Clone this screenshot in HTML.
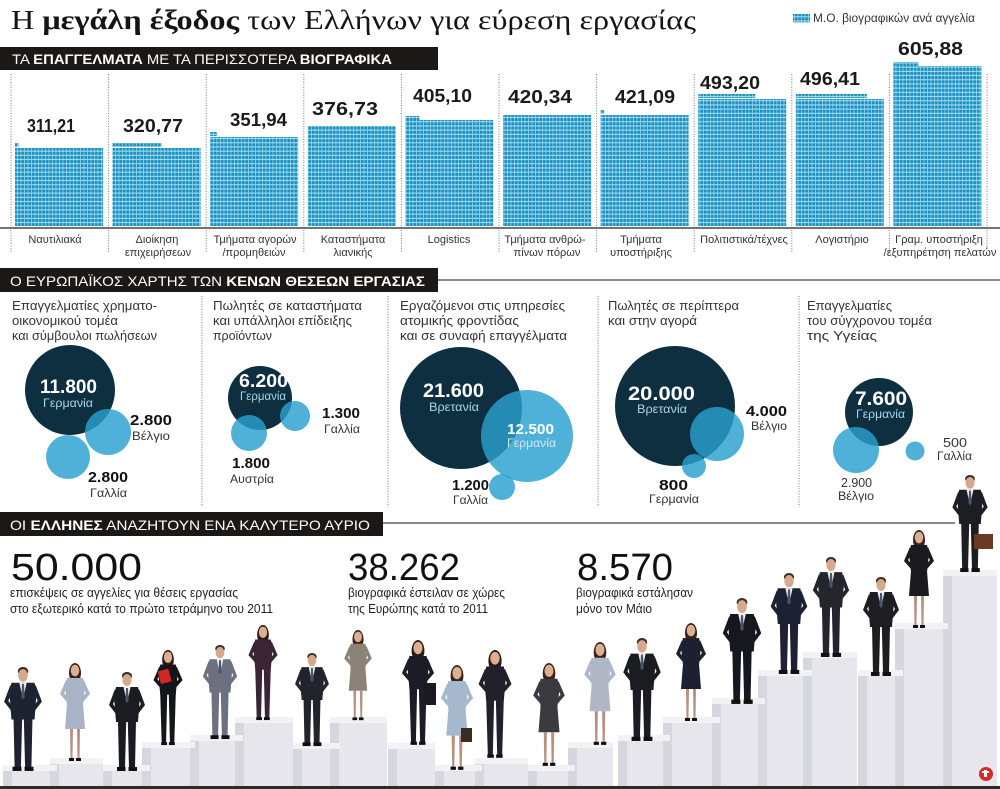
<!DOCTYPE html>
<html><head><meta charset="utf-8"><style>
html,body{margin:0;padding:0;background:#fff;}
svg{display:block;}
</style></head><body>
<svg width="1000" height="789" viewBox="0 0 1000 789" xmlns="http://www.w3.org/2000/svg" style="font-family:'Liberation Sans',sans-serif">
<defs>
<pattern id="sq" width="3.5" height="4.2" patternUnits="userSpaceOnUse">
<rect width="3.5" height="4.2" fill="#a3def3"/>
<rect x="0.3" y="0.5" width="2.8" height="3.1" fill="#1b8fc0"/>
</pattern>
<g id="man">
<ellipse cx="0" cy="4" rx="5" ry="4" fill="#3b2b22"/>
<ellipse cx="0" cy="8" rx="4.6" ry="6" fill="#d6a98c"/>
<path d="M-11,15 L11,15 L13,24 L11,50 L-11,50 L-13,24Z" fill="currentColor"/>
<path d="M-12,17 L-18,33 L-11,42 L-10,38 L-14,32 L-10,24Z" fill="currentColor"/>
<path d="M12,17 L18,33 L11,42 L10,38 L14,32 L10,24Z" fill="currentColor"/>
<path d="M-3.5,15 L3.5,15 L0,31Z" fill="#f2f2f2"/>
<path d="M-1,16 L1,16 L1.6,29 L0,31 L-1.6,29Z" fill="#4a5470"/>
<path d="M-9,49 L-0.8,49 L-2,96 L-8,96Z" fill="currentColor"/>
<path d="M9,49 L0.8,49 L2,96 L8,96Z" fill="currentColor"/>
<rect x="-10" y="95" width="8.5" height="4" fill="#111"/>
<rect x="1.5" y="95" width="8.5" height="4" fill="#111"/>
</g>
<g id="wom">
<ellipse cx="0" cy="10" rx="6" ry="10" fill="#3a2418"/>
<ellipse cx="0" cy="7.5" rx="4.3" ry="5.8" fill="#dcae92"/>
<path d="M-8,15 L8,15 L10,24 L8,42 L-8,42 L-10,24Z" fill="currentColor"/>
<path d="M-9,17 L-15,31 L-8,39 L-7,35 L-11,30 L-7,23Z" fill="currentColor"/>
<path d="M9,17 L15,31 L8,39 L7,35 L11,30 L7,23Z" fill="currentColor"/>
<path d="M-8,41 L8,41 L10,66 L-10,66Z" fill="currentColor"/>
<path d="M-5,66 L-2,66 L-2.5,95 L-4.5,95Z" fill="#b89080"/>
<path d="M5,66 L2,66 L2.5,95 L4.5,95Z" fill="#b89080"/>
<rect x="-6" y="95" width="5" height="3" fill="#111"/>
<rect x="1" y="95" width="5" height="3" fill="#111"/>
</g>
<g id="womp">
<ellipse cx="0" cy="10" rx="6" ry="10" fill="#2a1a14"/>
<ellipse cx="0" cy="7.5" rx="4.3" ry="5.8" fill="#dcae92"/>
<path d="M-8,15 L8,15 L10,24 L8,46 L-8,46 L-10,24Z" fill="currentColor"/>
<path d="M-9,17 L-15,31 L-8,39 L-7,35 L-11,30 L-7,23Z" fill="currentColor"/>
<path d="M9,17 L15,31 L8,39 L7,35 L11,30 L7,23Z" fill="currentColor"/>
<path d="M-8,45 L-0.8,45 L-2,96 L-6.5,96Z" fill="currentColor"/>
<path d="M8,45 L0.8,45 L2,96 L6.5,96Z" fill="currentColor"/>
<rect x="-7" y="95" width="6" height="3" fill="#111"/>
<rect x="1" y="95" width="6" height="3" fill="#111"/>
</g>
</defs>

<!-- Title -->
<text x="11" y="29" font-family="'Liberation Serif',serif" font-size="27" fill="#151515" textLength="685" lengthAdjust="spacingAndGlyphs">Η <tspan font-weight="bold">μεγάλη έξοδος</tspan> των Ελλήνων για εύρεση εργασίας</text>
<!-- Legend -->
<rect x="793" y="14" width="17" height="8.4" fill="url(#sq)"/>
<text x="813" y="22" font-size="11.5" fill="#333" textLength="162" lengthAdjust="spacingAndGlyphs">Μ.Ο. βιογραφικών ανά αγγελία</text>

<!-- Header 1 -->
<rect x="0" y="47" width="438" height="23" fill="#1c1816"/>
<text x="12" y="64" font-size="13.5" fill="#fff" textLength="380" lengthAdjust="spacingAndGlyphs">ΤΑ <tspan font-weight="bold">ΕΠΑΓΓΕΛΜΑΤΑ</tspan> ΜΕ ΤΑ ΠΕΡΙΣΣΟΤΕΡΑ <tspan font-weight="bold">ΒΙΟΓΡΑΦΙΚΑ</tspan></text>

<!-- Dotted separators bar chart -->
<g stroke="#777" stroke-width="1" stroke-dasharray="1,1.6">
<line x1="11" y1="74" x2="11" y2="252"/>
<line x1="108.6" y1="74" x2="108.6" y2="252"/>
<line x1="206.2" y1="74" x2="206.2" y2="252"/>
<line x1="303.8" y1="74" x2="303.8" y2="252"/>
<line x1="401.4" y1="74" x2="401.4" y2="252"/>
<line x1="499" y1="74" x2="499" y2="252"/>
<line x1="596.6" y1="74" x2="596.6" y2="252"/>
<line x1="694.2" y1="74" x2="694.2" y2="252"/>
<line x1="791.8" y1="74" x2="791.8" y2="252"/>
<line x1="889.4" y1="74" x2="889.4" y2="252"/>
<line x1="987" y1="74" x2="987" y2="252"/>
</g>

<!-- Bars -->
<g fill="url(#sq)">
<rect x="15" y="148" width="88" height="78"/><rect x="15" y="143" width="3.5" height="4"/>
<rect x="112.6" y="148" width="88" height="78"/><rect x="112.6" y="143" width="49" height="4"/>
<rect x="210.2" y="137" width="88" height="89"/><rect x="210.2" y="132" width="7" height="4"/>
<rect x="307.8" y="126" width="88" height="100"/>
<rect x="405.4" y="120" width="88" height="106"/><rect x="405.4" y="116" width="14" height="4"/>
<rect x="503" y="115" width="88" height="111"/>
<rect x="600.6" y="115" width="88" height="111"/><rect x="600.6" y="110" width="3.5" height="4"/>
<rect x="698.2" y="99" width="88" height="127"/><rect x="698.2" y="94" width="57" height="4"/>
<rect x="795.8" y="99" width="88" height="127"/><rect x="795.8" y="94" width="71" height="4"/>
<rect x="893.4" y="66" width="88" height="160"/><rect x="893.4" y="62" width="25" height="4"/>
</g>
<line x1="0" y1="228" x2="1000" y2="228" stroke="#444" stroke-width="1.5"/>

<!-- Value labels -->
<g font-size="18" font-weight="bold" fill="#1a1a1a">
<text x="27" y="132" textLength="48" lengthAdjust="spacingAndGlyphs">311,21</text>
<text x="123" y="132" textLength="60" lengthAdjust="spacingAndGlyphs">320,77</text>
<text x="230" y="126" textLength="57" lengthAdjust="spacingAndGlyphs">351,94</text>
<text x="312" y="115" textLength="66" lengthAdjust="spacingAndGlyphs">376,73</text>
<text x="413" y="102" textLength="59" lengthAdjust="spacingAndGlyphs">405,10</text>
<text x="508" y="103" textLength="64" lengthAdjust="spacingAndGlyphs">420,34</text>
<text x="615" y="103" textLength="60" lengthAdjust="spacingAndGlyphs">421,09</text>
<text x="700" y="89" textLength="60" lengthAdjust="spacingAndGlyphs">493,20</text>
<text x="800" y="85" textLength="60" lengthAdjust="spacingAndGlyphs">496,41</text>
<text x="898" y="55" textLength="65" lengthAdjust="spacingAndGlyphs">605,88</text>
</g>

<!-- Category labels -->
<g font-size="11" fill="#333" text-anchor="middle">
<text x="55" y="243">Ναυτιλιακά</text>
<text x="157" y="243">Διοίκηση</text><text x="158" y="256">επιχειρήσεων</text>
<text x="255" y="243">Τμήματα αγορών</text><text x="254" y="256">/προμηθειών</text>
<text x="353" y="243">Καταστήματα</text><text x="353" y="256">λιανικής</text>
<text x="449" y="243">Logistics</text>
<text x="545" y="243">Τμήματα ανθρώ-</text><text x="547" y="256">πίνων πόρων</text>
<text x="641" y="243">Τμήματα</text><text x="641" y="256">υποστήριξης</text>
<text x="744" y="243">Πολιτιστικά/τέχνες</text>
<text x="842" y="243">Λογιστήριο</text>
<text x="939" y="243">Γραμ. υποστήριξη</text><text x="940" y="256">/εξυπηρέτηση πελατών</text>
</g>

<!-- Header 2 -->
<rect x="0" y="268" width="438" height="24" fill="#1c1816"/>
<line x1="438" y1="280" x2="1000" y2="280" stroke="#444" stroke-width="1.3"/>
<text x="10" y="286" font-size="14" fill="#fff" textLength="415" lengthAdjust="spacingAndGlyphs">Ο ΕΥΡΩΠΑΪΚΟΣ ΧΑΡΤΗΣ ΤΩΝ <tspan font-weight="bold">ΚΕΝΩΝ ΘΕΣΕΩΝ ΕΡΓΑΣΙΑΣ</tspan></text>

<g stroke="#777" stroke-width="1" stroke-dasharray="1,1.6">
<line x1="202" y1="296" x2="202" y2="507"/>
<line x1="388" y1="296" x2="388" y2="507"/>
<line x1="598" y1="296" x2="598" y2="507"/>
<line x1="799" y1="296" x2="799" y2="507"/>
</g>

<!-- Column texts -->
<g font-size="13" fill="#333">
<text x="12" y="310" textLength="145" lengthAdjust="spacingAndGlyphs">Επαγγελματίες χρηματο-</text>
<text x="12" y="325" textLength="106" lengthAdjust="spacingAndGlyphs">οικονομικού τομέα</text>
<text x="12" y="340" textLength="145" lengthAdjust="spacingAndGlyphs">και σύμβουλοι πωλήσεων</text>
<text x="213" y="310" textLength="149" lengthAdjust="spacingAndGlyphs">Πωλητές σε καταστήματα</text>
<text x="213" y="325" textLength="139" lengthAdjust="spacingAndGlyphs">και υπάλληλοι επίδειξης</text>
<text x="213" y="340" textLength="59" lengthAdjust="spacingAndGlyphs">προϊόντων</text>
<text x="400" y="310" textLength="165" lengthAdjust="spacingAndGlyphs">Εργαζόμενοι στις υπηρεσίες</text>
<text x="400" y="325" textLength="119" lengthAdjust="spacingAndGlyphs">ατομικής φροντίδας</text>
<text x="400" y="340" textLength="167" lengthAdjust="spacingAndGlyphs">και σε συναφή επαγγέλματα</text>
<text x="608" y="310" textLength="131" lengthAdjust="spacingAndGlyphs">Πωλητές σε περίπτερα</text>
<text x="608" y="325" textLength="89" lengthAdjust="spacingAndGlyphs">και στην αγορά</text>
<text x="807" y="310" textLength="85" lengthAdjust="spacingAndGlyphs">Επαγγελματίες</text>
<text x="807" y="325" textLength="125" lengthAdjust="spacingAndGlyphs">του σύγχρονου τομέα</text>
<text x="807" y="340" textLength="70" lengthAdjust="spacingAndGlyphs">της Υγείας</text>
</g>

<!-- Bubbles -->
<g fill="#0e2f40">
<circle cx="70" cy="390" r="45"/>
<circle cx="260" cy="398" r="32"/>
<circle cx="461" cy="408" r="61"/>
<circle cx="675" cy="406" r="60"/>
<circle cx="879" cy="412" r="34"/>
</g>
<g fill="#2aa0d0" fill-opacity="0.82">
<circle cx="108" cy="432" r="23"/>
<circle cx="68" cy="457" r="22"/>
<circle cx="295" cy="416" r="15"/>
<circle cx="249" cy="433" r="18"/>
<circle cx="527" cy="436" r="46"/>
<circle cx="502" cy="487" r="13"/>
<circle cx="717" cy="434" r="27"/>
<circle cx="694" cy="466" r="12"/>
<circle cx="856" cy="450" r="23"/>
<circle cx="915" cy="451" r="9.5"/>
</g>

<!-- White bubble numbers -->
<g font-weight="bold" fill="#fff">
<text x="40" y="393" font-size="19" textLength="57" lengthAdjust="spacingAndGlyphs">11.800</text>
<text x="239" y="387" font-size="18" textLength="49" lengthAdjust="spacingAndGlyphs">6.200</text>
<text x="423" y="397" font-size="19" textLength="61" lengthAdjust="spacingAndGlyphs">21.600</text>
<text x="507" y="434" font-size="15" textLength="47" lengthAdjust="spacingAndGlyphs">12.500</text>
<text x="628" y="400" font-size="19" textLength="67" lengthAdjust="spacingAndGlyphs">20.000</text>
<text x="855" y="405" font-size="19" textLength="52" lengthAdjust="spacingAndGlyphs">7.600</text>
</g>
<g font-size="12" fill="#a8d6ea">
<text x="43" y="407" textLength="50" lengthAdjust="spacingAndGlyphs">Γερμανία</text>
<text x="240" y="400" textLength="46" lengthAdjust="spacingAndGlyphs">Γερμανία</text>
<text x="429" y="411" textLength="50" lengthAdjust="spacingAndGlyphs">Βρετανία</text>
<text x="507" y="447" textLength="49" lengthAdjust="spacingAndGlyphs" fill="#cde9f5">Γερμανία</text>
<text x="637" y="413" textLength="50" lengthAdjust="spacingAndGlyphs">Βρετανία</text>
<text x="856" y="418" textLength="49" lengthAdjust="spacingAndGlyphs">Γερμανία</text>
</g>

<!-- Dark outside bubble labels -->
<g font-weight="bold" fill="#111" font-size="15">
<text x="130" y="425" textLength="42" lengthAdjust="spacingAndGlyphs">2.800</text>
<text x="88" y="482" textLength="40" lengthAdjust="spacingAndGlyphs">2.800</text>
<text x="322" y="418" textLength="38" lengthAdjust="spacingAndGlyphs">1.300</text>
<text x="232" y="468" textLength="38" lengthAdjust="spacingAndGlyphs">1.800</text>
<text x="452" y="490" textLength="37" lengthAdjust="spacingAndGlyphs">1.200</text>
<text x="746" y="416" textLength="41" lengthAdjust="spacingAndGlyphs">4.000</text>
<text x="659" y="490" textLength="29" lengthAdjust="spacingAndGlyphs">800</text>
</g>
<g fill="#333" font-size="12">
<text x="132" y="440" textLength="38" lengthAdjust="spacingAndGlyphs">Βέλγιο</text>
<text x="90" y="497" textLength="37" lengthAdjust="spacingAndGlyphs">Γαλλία</text>
<text x="324" y="433" textLength="36" lengthAdjust="spacingAndGlyphs">Γαλλία</text>
<text x="230" y="483" textLength="44" lengthAdjust="spacingAndGlyphs">Αυστρία</text>
<text x="453" y="504" textLength="35" lengthAdjust="spacingAndGlyphs">Γαλλία</text>
<text x="751" y="430" textLength="36" lengthAdjust="spacingAndGlyphs">Βέλγιο</text>
<text x="649" y="503" textLength="50" lengthAdjust="spacingAndGlyphs">Γερμανία</text>
<text x="943" y="447" font-size="13" textLength="24" lengthAdjust="spacingAndGlyphs">500</text>
<text x="937" y="460" textLength="35" lengthAdjust="spacingAndGlyphs">Γαλλία</text>
<text x="841" y="487" font-size="13" textLength="31" lengthAdjust="spacingAndGlyphs">2.900</text>
<text x="838" y="500" textLength="36" lengthAdjust="spacingAndGlyphs">Βέλγιο</text>
</g>

<!-- Header 3 -->
<rect x="0" y="512" width="383" height="24" fill="#1c1816"/>
<line x1="383" y1="523" x2="955" y2="523" stroke="#444" stroke-width="1.3"/>
<text x="10" y="530" font-size="14" fill="#fff" textLength="360" lengthAdjust="spacingAndGlyphs">ΟΙ <tspan font-weight="bold">ΕΛΛΗΝΕΣ</tspan> ΑΝΑΖΗΤΟΥΝ ΕΝΑ ΚΑΛΥΤΕΡΟ ΑΥΡΙΟ</text>

<!-- Stairs -->
<g>
<g fill="#e6e6ec">
<rect x="3" y="765" width="54" height="21"/>
<rect x="50" y="758" width="53" height="28"/>
<rect x="103" y="765" width="47" height="21"/>
<rect x="142" y="742" width="53" height="44"/>
<rect x="190" y="735" width="53" height="51"/>
<rect x="235" y="717" width="58" height="69"/>
<rect x="293" y="743" width="47" height="43"/>
<rect x="330" y="717" width="57" height="69"/>
<rect x="388" y="743" width="47" height="43"/>
<rect x="435" y="765" width="47" height="21"/>
<rect x="475" y="758" width="53" height="28"/>
<rect x="528" y="765" width="47" height="21"/>
<rect x="568" y="742" width="45" height="44"/>
<rect x="618" y="735" width="52" height="51"/>
<rect x="663" y="717" width="57" height="69"/>
<rect x="712" y="698" width="53" height="88"/>
<rect x="758" y="670" width="54" height="116"/>
<rect x="803" y="652" width="54" height="134"/>
<rect x="858" y="670" width="45" height="116"/>
<rect x="895" y="623" width="53" height="163"/>
<rect x="943" y="570" width="54" height="216"/>
</g>
<g fill="#d6d6de">
<rect x="3" y="771" width="9" height="15"/>
<rect x="50" y="764" width="9" height="22"/>
<rect x="103" y="771" width="9" height="15"/>
<rect x="142" y="748" width="9" height="38"/>
<rect x="190" y="741" width="9" height="45"/>
<rect x="235" y="723" width="9" height="63"/>
<rect x="293" y="749" width="9" height="37"/>
<rect x="330" y="723" width="9" height="63"/>
<rect x="388" y="749" width="9" height="37"/>
<rect x="435" y="771" width="9" height="15"/>
<rect x="475" y="764" width="9" height="22"/>
<rect x="528" y="771" width="9" height="15"/>
<rect x="568" y="748" width="9" height="38"/>
<rect x="618" y="741" width="9" height="45"/>
<rect x="663" y="723" width="9" height="63"/>
<rect x="712" y="704" width="9" height="82"/>
<rect x="758" y="676" width="9" height="110"/>
<rect x="803" y="658" width="9" height="128"/>
<rect x="858" y="676" width="9" height="110"/>
<rect x="895" y="629" width="9" height="157"/>
<rect x="943" y="576" width="9" height="210"/>
</g>
<g fill="#f2f2f5">
<rect x="3" y="765" width="54" height="6"/>
<rect x="50" y="758" width="53" height="6"/>
<rect x="103" y="765" width="47" height="6"/>
<rect x="142" y="742" width="53" height="6"/>
<rect x="190" y="735" width="53" height="6"/>
<rect x="235" y="717" width="58" height="6"/>
<rect x="293" y="743" width="47" height="6"/>
<rect x="330" y="717" width="57" height="6"/>
<rect x="388" y="743" width="47" height="6"/>
<rect x="435" y="765" width="47" height="6"/>
<rect x="475" y="758" width="53" height="6"/>
<rect x="528" y="765" width="47" height="6"/>
<rect x="568" y="742" width="45" height="6"/>
<rect x="618" y="735" width="52" height="6"/>
<rect x="663" y="717" width="57" height="6"/>
<rect x="712" y="698" width="53" height="6"/>
<rect x="758" y="670" width="54" height="6"/>
<rect x="803" y="652" width="54" height="6"/>
<rect x="858" y="670" width="45" height="6"/>
<rect x="895" y="623" width="53" height="6"/>
<rect x="943" y="570" width="54" height="6"/>
</g>
</g>

<!-- People -->
<use href="#man" transform="translate(23,667) scale(1.05)" color="#1f2230"/>
<use href="#wom" transform="translate(75,663) scale(1.0)" color="#a9b3c7"/>
<use href="#man" transform="translate(127,672) scale(1.0)" color="#1a1c22"/>
<use href="#womp" transform="translate(168,650) scale(0.97)" color="#15161a"/>
<rect x="159" y="670" width="11" height="13" fill="#d42525" transform="rotate(-15 164 676)"/>
<use href="#man" transform="translate(220,645) scale(0.95)" color="#6c7080"/>
<use href="#womp" transform="translate(263,625) scale(0.97)" color="#3a2436"/>
<use href="#man" transform="translate(312,653) scale(0.94)" color="#22242c"/>
<use href="#wom" transform="translate(358,630) scale(0.92)" color="#8c8277"/>
<use href="#womp" transform="translate(418,640) scale(1.07)" color="#1a1c26"/>
<rect x="424" y="683" width="12" height="22" fill="#1a1a1e"/>
<use href="#wom" transform="translate(457,665) scale(1.07)" color="#a5b8cc"/>
<rect x="461" y="728" width="11" height="14" fill="#3a2c24"/>
<use href="#womp" transform="translate(495,650) scale(1.10)" color="#22202a"/>
<use href="#wom" transform="translate(549,663) scale(1.05)" color="#3a3a40"/>
<use href="#wom" transform="translate(600,642) scale(1.05)" color="#b0b8c8"/>
<use href="#man" transform="translate(642,638) scale(1.04)" color="#1a1c22"/>
<use href="#wom" transform="translate(691,623) scale(1.0)" color="#1c2030"/>
<use href="#man" transform="translate(742,598) scale(1.07)" color="#161820"/>
<use href="#man" transform="translate(789,573) scale(1.02)" color="#1c2234"/>
<use href="#man" transform="translate(831,557) scale(1.01)" color="#24262c"/>
<use href="#man" transform="translate(881,577) scale(1.0)" color="#1e1e22"/>
<use href="#wom" transform="translate(919,530) scale(1.0)" color="#1a1a20"/>
<use href="#man" transform="translate(970,475) scale(0.98)" color="#1c1e24"/>
<rect x="974" y="534" width="19" height="15" fill="#6b3a22"/>

<!-- Section 3 numbers -->
<g font-size="38" fill="#111">
<text x="11" y="580" textLength="131" lengthAdjust="spacingAndGlyphs">50.000</text>
<text x="348" y="580" textLength="112" lengthAdjust="spacingAndGlyphs">38.262</text>
<text x="577" y="580" textLength="96" lengthAdjust="spacingAndGlyphs">8.570</text>
</g>
<g font-size="13" fill="#222">
<text x="10" y="597" textLength="228" lengthAdjust="spacingAndGlyphs">επισκέψεις σε αγγελίες για θέσεις εργασίας</text>
<text x="10" y="613" textLength="263" lengthAdjust="spacingAndGlyphs">στο εξωτερικό κατά το πρώτο τετράμηνο του 2011</text>
<text x="348" y="597" textLength="157" lengthAdjust="spacingAndGlyphs">βιογραφικά έστειλαν σε χώρες</text>
<text x="348" y="613" textLength="140" lengthAdjust="spacingAndGlyphs">της Ευρώπης κατά το 2011</text>
<text x="576" y="597" textLength="117" lengthAdjust="spacingAndGlyphs">βιογραφικά εστάλησαν</text>
<text x="576" y="613" textLength="76" lengthAdjust="spacingAndGlyphs">μόνο τον Μάιο</text>
</g>

<!-- Logo -->
<circle cx="986" cy="774" r="7" fill="#d42a2a"/>
<rect x="984" y="770" width="3" height="7" fill="#fff"/>
<rect x="982" y="771" width="7" height="2" fill="#fff"/>

<!-- bottom line -->
<rect x="0" y="786" width="1000" height="3" fill="#2b2b2b"/>
</svg>
</body></html>
